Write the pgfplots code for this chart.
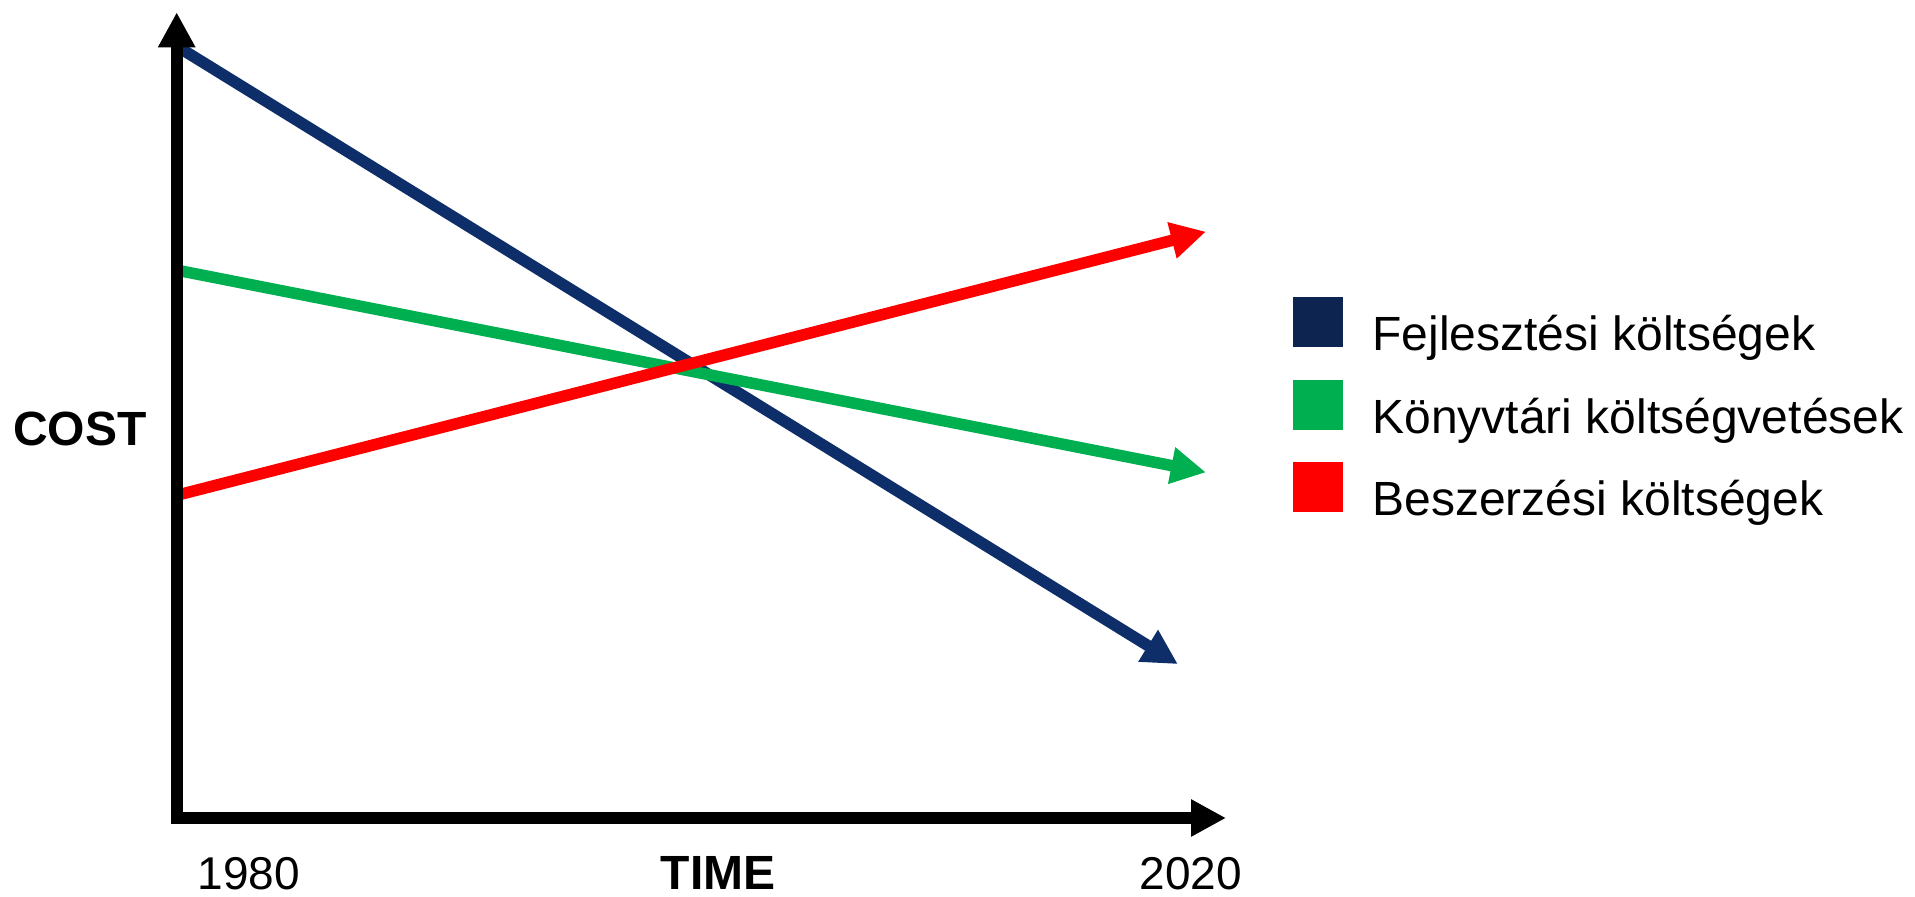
\documentclass[border=0pt]{standalone}
\usepackage{fontspec}
\setmainfont{Liberation Sans}
\usepackage{pgfplots}
\pgfplotsset{compat=1.18}
\usetikzlibrary{arrows.meta}

\definecolor{navyline}{HTML}{0E2E6A}
\definecolor{navybox}{HTML}{0E2450}
\definecolor{costgreen}{HTML}{00B050}
\definecolor{costred}{HTML}{FF0000}

\tikzset{bigtip/.style={-{Triangle[width=17.5pt,length=17.5pt]}}}

\begin{document}
\begin{tikzpicture}
\begin{axis}[
    at={(0,0)}, anchor=south west,
    scale only axis,
    width=524.65pt, height=402.85pt,
    xmin=1980, xmax=2020.78,
    ymin=0, ymax=100,
    axis lines=left,
    axis on top,
    clip=false,
    axis line style={line width=6pt, line cap=rect},
    x axis line style={bigtip},
    y axis line style={bigtip},
    xtick={1982.81,2019.42},
    xticklabels={1980,2020},
    ytick=\empty,
    major tick length=0pt,
    /pgf/number format/assume math mode=true,
    xticklabel style={font=\fontsize{23}{27}\selectfont, anchor=base, yshift=-36pt, inner sep=0pt},
    xlabel={TIME},
    ylabel={COST},
    xlabel style={font=\bfseries\fontsize{24}{28}\selectfont, at={(axis description cs:0.516,0)}, anchor=base, yshift=-36pt, inner sep=0pt},
    ylabel style={font=\bfseries\fontsize{24}{28}\selectfont, rotate=-90, at={(axis description cs:0,0.4828)}, anchor=east, xshift=-14.85pt, inner sep=0pt},
    legend style={
        at={(1.0636,0.6463)}, anchor=north west,
        draw=none, fill=none, inner sep=0pt, outer sep=0pt,
        row sep=13pt,
        font=\fontsize{24}{28.8}\selectfont,
        nodes={inner sep=0pt, anchor=base west},
        /tikz/every odd column/.append style={column sep=15pt},
    },
]
% Fejlesztési költségek
\addplot[navyline, line width=5.75pt, bigtip, forget plot] coordinates {(1980,95.8) (2018.91,19.1)};
% Könyvtári költségvetések
\addplot[costgreen, line width=5.75pt, bigtip, forget plot] coordinates {(1980,68.0) (2020,42.9)};
% Beszerzési költségek
\addplot[costred, line width=5.75pt, bigtip, forget plot] coordinates {(1980,40.05) (2020,72.77)};

\addlegendimage{legend image code/.code={\fill[navybox] (0pt,2pt) rectangle (24.5pt,26.5pt);}}
\addlegendentry{Fejlesztési költségek}
\addlegendimage{legend image code/.code={\fill[costgreen] (0pt,2pt) rectangle (24.5pt,26.5pt);}}
\addlegendentry{Könyvtári költségvetések}
\addlegendimage{legend image code/.code={\fill[costred] (0pt,2pt) rectangle (24.5pt,26.5pt);}}
\addlegendentry{Beszerzési költségek}
\end{axis}
\path (-88.35pt,-39.5pt) rectangle (869.15pt,409pt);
\end{tikzpicture}
\end{document}
